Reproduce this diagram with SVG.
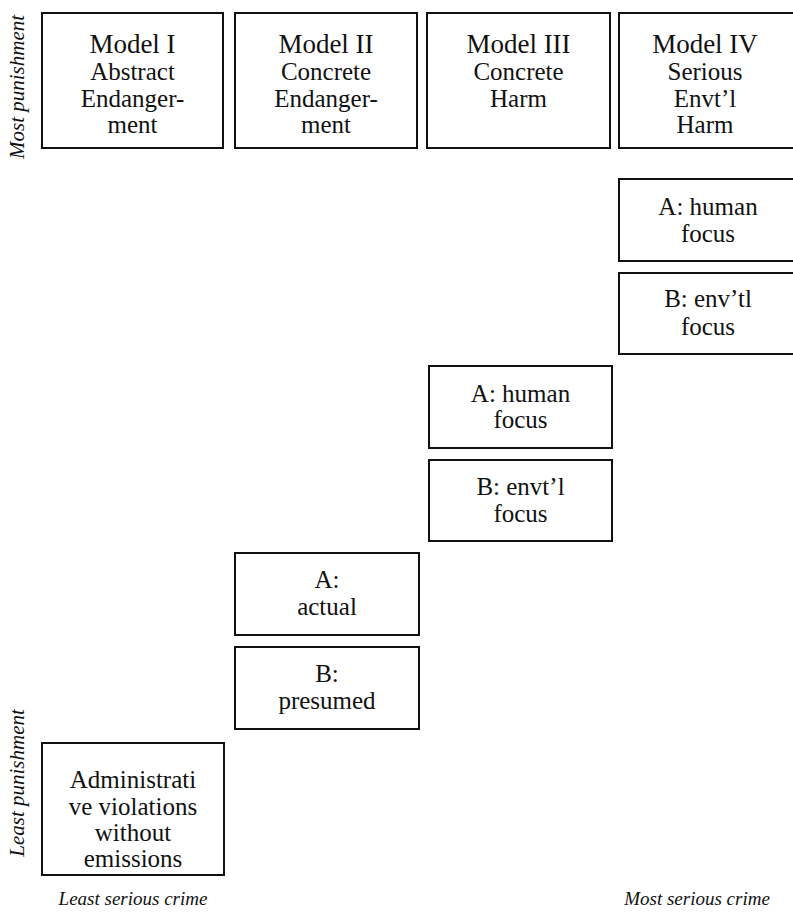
<svg xmlns="http://www.w3.org/2000/svg" width="793" height="912" viewBox="0 0 793 912">
<style>
  .box { fill: #ffffff; stroke: #111111; stroke-width: 2; }
  text { font-family: 'Liberation Serif', 'Times New Roman', serif; fill: #111111; text-anchor: middle; }
  .n { font-size: 25px; }
  .h { font-size: 27px; }
  .ax { font-style: italic; }
</style>
<rect width="793" height="912" fill="#ffffff"/>

<g id="labels">
  <text class="ax" font-size="21" transform="translate(24,87) rotate(-90)">Most punishment</text>
  <text class="ax" font-size="21" transform="translate(24,783) rotate(-90)">Least punishment</text>
  <text class="ax" font-size="19" x="133" y="905">Least serious crime</text>
  <text class="ax" font-size="19" x="697" y="905">Most serious crime</text>
</g>

<g id="connectors"></g>

<g id="model1">
  <rect class="box" x="42" y="13" width="181" height="135"/>
  <text class="h" x="132.5" y="53">Model I</text>
  <text class="n" x="132.5" y="80">Abstract</text>
  <text class="n" x="132.5" y="107">Endanger-</text>
  <text class="n" x="132.5" y="133">ment</text>
</g>
<g id="model2">
  <rect class="box" x="235" y="13" width="182" height="135"/>
  <text class="h" x="326" y="53">Model II</text>
  <text class="n" x="326" y="80">Concrete</text>
  <text class="n" x="326" y="107">Endanger-</text>
  <text class="n" x="326" y="133">ment</text>
</g>
<g id="model3">
  <rect class="box" x="427" y="13" width="183" height="135"/>
  <text class="h" x="518.5" y="53">Model III</text>
  <text class="n" x="518.5" y="80">Concrete</text>
  <text class="n" x="518.5" y="107">Harm</text>
</g>
<g id="model4">
  <rect class="box" x="619" y="13" width="180" height="135"/>
  <text class="h" x="705" y="53">Model IV</text>
  <text class="n" x="705" y="80">Serious</text>
  <text class="n" x="705" y="107">Envt’l</text>
  <text class="n" x="705" y="133">Harm</text>
</g>

<g id="m4a">
  <rect class="box" x="619" y="179" width="180" height="82"/>
  <text class="n" x="708" y="215">A: human</text>
  <text class="n" x="708" y="242">focus</text>
</g>
<g id="m4b">
  <rect class="box" x="619" y="273" width="180" height="81"/>
  <text class="n" x="708" y="307">B: env’tl</text>
  <text class="n" x="708" y="335">focus</text>
</g>

<g id="m3a">
  <rect class="box" x="429" y="366" width="183" height="82"/>
  <text class="n" x="520.5" y="402">A: human</text>
  <text class="n" x="520.5" y="428">focus</text>
</g>
<g id="m3b">
  <rect class="box" x="429" y="460" width="183" height="81"/>
  <text class="n" x="520.5" y="495">B: envt’l</text>
  <text class="n" x="520.5" y="522">focus</text>
</g>

<g id="m2a">
  <rect class="box" x="235" y="553" width="184" height="82"/>
  <text class="n" x="327" y="588">A:</text>
  <text class="n" x="327" y="615">actual</text>
</g>
<g id="m2b">
  <rect class="box" x="235" y="647" width="184" height="82"/>
  <text class="n" x="327" y="682">B:</text>
  <text class="n" x="327" y="709">presumed</text>
</g>

<g id="admin">
  <rect class="box" x="42" y="743" width="182" height="132"/>
  <text class="n" x="133" y="788">Administrati</text>
  <text class="n" x="133" y="815">ve violations</text>
  <text class="n" x="133" y="841">without</text>
  <text class="n" x="133" y="867">emissions</text>
</g>
</svg>
